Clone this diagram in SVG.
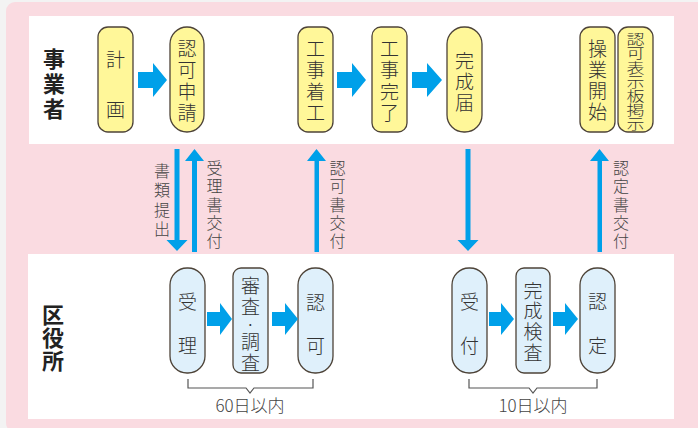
<svg xmlns="http://www.w3.org/2000/svg" width="698" height="428" viewBox="0 0 698 428">
<style>
.ny{fill:#fff799;stroke:#4d4338;stroke-width:1.3}
.nb{fill:#dff0fb;stroke:#4d4338;stroke-width:1.3}
.t{font-family:"Noto Sans CJK JP","Noto Sans",sans-serif;font-size:19px;font-weight:300;fill:#333;text-anchor:middle;dominant-baseline:central}
.s{font-family:"Noto Sans CJK JP","Noto Sans",sans-serif;font-size:18px;font-weight:300;fill:#333;text-anchor:middle;dominant-baseline:central}
.l{font-family:"Noto Sans CJK JP","Noto Sans",sans-serif;font-size:16px;font-weight:300;fill:#444;text-anchor:middle;dominant-baseline:central}
.h{font-family:"Noto Sans CJK JP","Noto Sans",sans-serif;font-size:22px;font-weight:bold;fill:#222;text-anchor:middle;dominant-baseline:central}
.d{font-family:"Noto Sans CJK JP","Noto Sans",sans-serif;font-size:17px;font-weight:300;fill:#444;text-anchor:middle}
.ba{fill:#00a0e9}
.br{fill:none;stroke:#555;stroke-width:1.2}
</style>
<rect x="0" y="0" width="698" height="428" fill="#f3f3f3"/>
<rect x="6" y="2" width="700" height="430" rx="9" fill="#fadbe1"/>
<rect x="29" y="16" width="645" height="128" fill="#fff"/>
<rect x="28" y="254" width="646" height="165" fill="#fff"/>

<g id="label-jigyosha">
<text class="h" x="54" y="57">事</text>
<text class="h" x="54" y="82">業</text>
<text class="h" x="54" y="107">者</text>
</g>
<g id="label-kuyakusho">
<text class="h" x="53" y="313">区</text>
<text class="h" x="53" y="336">役</text>
<text class="h" x="53" y="359">所</text>
</g>

<g id="keikaku">
<rect class="ny" x="98" y="27" width="35" height="105" rx="10"/>
<text class="t" x="115.5" y="58">計</text>
<text class="t" x="115.5" y="108">画</text>
</g>
<g id="ninka-shinsei">
<rect class="ny" x="170" y="27" width="34" height="105" rx="17"/>
<text class="t" x="187" y="47">認</text>
<text class="t" x="187" y="68">可</text>
<text class="t" x="187" y="90">申</text>
<text class="t" x="187" y="111">請</text>
</g>
<g id="koji-chakko">
<rect class="ny" x="298" y="27" width="35" height="105" rx="10"/>
<text class="t" x="315.5" y="47">工</text>
<text class="t" x="315.5" y="68">事</text>
<text class="t" x="315.5" y="90">着</text>
<text class="t" x="315.5" y="111">工</text>
</g>
<g id="koji-kanryo">
<rect class="ny" x="372" y="27" width="35" height="105" rx="9"/>
<text class="t" x="389.5" y="47">工</text>
<text class="t" x="389.5" y="68">事</text>
<text class="t" x="389.5" y="90">完</text>
<text class="t" x="389.5" y="111">了</text>
</g>
<g id="kansei-todoke">
<rect class="ny" x="447" y="27" width="35" height="105" rx="17"/>
<text class="t" x="464.5" y="59">完</text>
<text class="t" x="464.5" y="80">成</text>
<text class="t" x="464.5" y="101">届</text>
</g>
<g id="sogyo-kaishi">
<rect class="ny" x="580" y="27" width="35" height="105" rx="10"/>
<text class="t" x="597.5" y="47">操</text>
<text class="t" x="597.5" y="68">業</text>
<text class="t" x="597.5" y="89">開</text>
<text class="t" x="597.5" y="110">始</text>
</g>
<g id="ninka-hyojiban">
<rect class="ny" x="618" y="27" width="35" height="105" rx="10"/>
<text class="s" transform="translate(635.5 38) scale(1 0.76)">認</text>
<text class="s" transform="translate(635.5 52.3) scale(1 0.76)">可</text>
<text class="s" transform="translate(635.5 66.6) scale(1 0.76)">表</text>
<text class="s" transform="translate(635.5 80.9) scale(1 0.76)">示</text>
<text class="s" transform="translate(635.5 95.2) scale(1 0.76)">板</text>
<text class="s" transform="translate(635.5 109.5) scale(1 0.76)">掲</text>
<text class="s" transform="translate(635.5 123.5) scale(1 0.76)">示</text>
</g>

<g id="juri">
<rect class="nb" x="170" y="268" width="35" height="105" rx="17"/>
<text class="t" x="187.5" y="300">受</text>
<text class="t" x="187.5" y="344">理</text>
</g>
<g id="shinsa-chosa">
<rect class="nb" x="233" y="268" width="35" height="105" rx="8"/>
<text class="t" x="250.5" y="284">審</text>
<text class="t" x="250.5" y="305">査</text>
<text class="t" x="250.5" y="323">·</text>
<text class="t" x="250.5" y="340">調</text>
<text class="t" x="250.5" y="361">査</text>
</g>
<g id="ninka">
<rect class="nb" x="298" y="268" width="35" height="105" rx="17"/>
<text class="t" x="315.5" y="301">認</text>
<text class="t" x="315.5" y="344">可</text>
</g>
<g id="uketsuke">
<rect class="nb" x="452" y="268" width="35" height="105" rx="17"/>
<text class="t" x="469.5" y="300">受</text>
<text class="t" x="469.5" y="344">付</text>
</g>
<g id="kansei-kensa">
<rect class="nb" x="516" y="268" width="34" height="105" rx="8"/>
<text class="t" x="533" y="289">完</text>
<text class="t" x="533" y="309">成</text>
<text class="t" x="533" y="330">検</text>
<text class="t" x="533" y="351">査</text>
</g>
<g id="nintei">
<rect class="nb" x="580" y="268" width="35" height="105" rx="17"/>
<text class="t" x="597.5" y="300">認</text>
<text class="t" x="597.5" y="344">定</text>
</g>

<g id="connectors">
<path class="ba" d="M138 72H153V63L167 80L153 97V88H138Z"/>
<path class="ba" d="M337 72H352V63L366 80L352 97V88H337Z"/>
<path class="ba" d="M412 72H427V63L442 80L427 97V88H412Z"/>
<path class="ba" d="M207 312H220V303L232 319L220 335V326H207Z"/>
<path class="ba" d="M272 312H285V303L298 319L285 335V326H272Z"/>
<path class="ba" d="M489 312H501V303L514 319L501 335V326H489Z"/>
<path class="ba" d="M553 312H565V303L578 319L565 335V326H553Z"/>
<path class="ba" d="M174.5 149H179.5V240H187.5L177 251L166.5 240H174.5Z"/>
<path class="ba" d="M192 252V161H185L194.5 149L204 161H197V252Z"/>
<path class="ba" d="M314.5 252V161H307L316.5 149L326 161H319V252Z"/>
<path class="ba" d="M465.5 149H470.5V240H478.5L468 251L457.5 240H465.5Z"/>
<path class="ba" d="M597.5 252V161H590L599.5 149L609 161H602V252Z"/>
<path class="br" d="M188 379V388H246L250 393L254 388H313V379"/>
<path class="br" d="M469 379V388H529L533 393L537 388H597V379"/>
</g>

<g id="label-shorui">
<text class="l" x="162" y="170">書</text>
<text class="l" x="162" y="189">類</text>
<text class="l" x="162" y="209">提</text>
<text class="l" x="162" y="228">出</text>
</g>
<g id="label-juri">
<text class="l" x="214.5" y="167">受</text>
<text class="l" x="214.5" y="185">理</text>
<text class="l" x="214.5" y="203.5">書</text>
<text class="l" x="214.5" y="222">交</text>
<text class="l" x="214.5" y="240">付</text>
</g>
<g id="label-ninkasho">
<text class="l" x="337.5" y="167">認</text>
<text class="l" x="337.5" y="185">可</text>
<text class="l" x="337.5" y="203.5">書</text>
<text class="l" x="337.5" y="222">交</text>
<text class="l" x="337.5" y="240">付</text>
</g>
<g id="label-ninteisho">
<text class="l" x="621" y="167">認</text>
<text class="l" x="621" y="185">定</text>
<text class="l" x="621" y="203.5">書</text>
<text class="l" x="621" y="222">交</text>
<text class="l" x="621" y="240">付</text>
</g>
<g id="label-60">
<text class="d" x="250" y="412">60日以内</text>
</g>
<g id="label-10">
<text class="d" x="533" y="412">10日以内</text>
</g>
</svg>
